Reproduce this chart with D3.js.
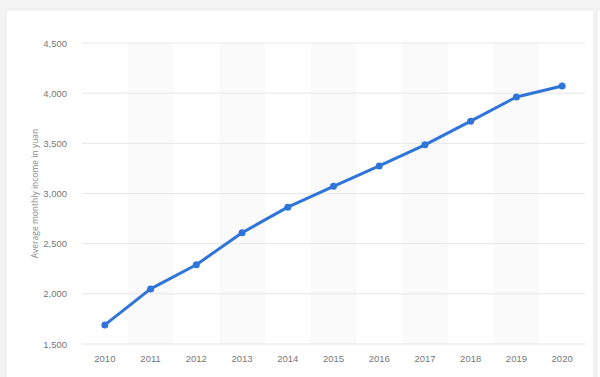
<!DOCTYPE html>
<html>
<head>
<meta charset="utf-8">
<script src="https://cdn.jsdelivr.net/npm/d3@7"></script>
<style>
  html, body { margin: 0; padding: 0; background: #f3f3f3; }
  #chart { width: 600px; height: 377px; position: relative; overflow: hidden; }
  svg { display: block; font-family: "Open Sans", "Noto Sans", sans-serif; }
</style>
</head>
<body>
<div id="chart"></div>
<script>
// Data
const years = ["2010", "2011", "2012", "2013", "2014", "2015", "2016", "2017", "2018", "2019", "2020"];
const income = [1690, 2049, 2290, 2609, 2864, 3072, 3275, 3485, 3721, 3962, 4072];
const yTicks = [1500, 2000, 2500, 3000, 3500, 4000, 4500];
const yLabel = "Average monthly income in yuan";

const width = 600, height = 377;
const margin = { top: 43, right: 15, bottom: 33, left: 82 };

const svg = d3.select("#chart")
    .append("svg")
    .attr("width", width)
    .attr("height", height);

// card backgrounds
svg.append("rect")
    .attr("x", 6).attr("y", 10)
    .attr("width", 588).attr("height", 380)
    .attr("rx", 3)
    .attr("fill", "#fff")
    .attr("stroke", "#ececec");
svg.append("rect")
    .attr("x", 597).attr("y", 10)
    .attr("width", 20).attr("height", 380)
    .attr("fill", "#fff")
    .attr("stroke", "#ececec");

// Scales
const x = d3.scaleBand()
    .domain(years)
    .range([margin.left, width - margin.right])
    .padding(0);

const y = d3.scaleLinear()
    .domain([1500, 4500])
    .range([height - margin.bottom, margin.top]);

// alternating shaded columns
svg.append("g")
    .selectAll("rect")
    .data(years.filter((d, i) => i % 2 === 1))
    .join("rect")
    .attr("x", d => x(d))
    .attr("y", margin.top)
    .attr("width", x.bandwidth())
    .attr("height", y(1500) - margin.top)
    .attr("fill", "#fafafa");

// grid lines
svg.append("g")
    .selectAll("line")
    .data(yTicks)
    .join("line")
    .attr("x1", margin.left)
    .attr("x2", width - margin.right)
    .attr("y1", d => y(d))
    .attr("y2", d => y(d))
    .attr("stroke", "#e6e6e6")
    .attr("stroke-width", 1);

// Y axis
const yAxis = svg.append("g")
    .attr("transform", `translate(${margin.left - 12},0)`)
    .call(d3.axisLeft(y).tickValues(yTicks).tickFormat(d3.format(",")).tickSize(0));
yAxis.select(".domain").remove();
yAxis.selectAll("text")
    .attr("fill", "#777")
    .attr("font-size", 9.5);

// X axis
const xAxis = svg.append("g")
    .attr("transform", `translate(0,${height - margin.bottom + 6})`)
    .call(d3.axisBottom(x).tickSize(0));
xAxis.select(".domain").remove();
xAxis.selectAll("text")
    .attr("fill", "#777")
    .attr("font-size", 9.5)
    .attr("dy", "0.9em");

// Y label
svg.append("text")
    .attr("transform", `translate(38,${(margin.top + height - margin.bottom) / 2}) rotate(-90)`)
    .attr("text-anchor", "middle")
    .attr("font-size", 8.5)
    .attr("fill", "#8a8a8a")
    .text(yLabel);

// Line
const line = d3.line()
    .x((d, i) => x(years[i]) + x.bandwidth() / 2)
    .y(d => y(d));

svg.append("path")
    .datum(income)
    .attr("fill", "none")
    .attr("stroke", "#2f74d8")
    .attr("stroke-width", 3)
    .attr("stroke-linejoin", "round")
    .attr("d", line);

svg.append("g")
    .selectAll("circle")
    .data(income)
    .join("circle")
    .attr("cx", (d, i) => x(years[i]) + x.bandwidth() / 2)
    .attr("cy", d => y(d))
    .attr("r", 3.5)
    .attr("fill", "#2f74d8");
</script>
</body>
</html>
